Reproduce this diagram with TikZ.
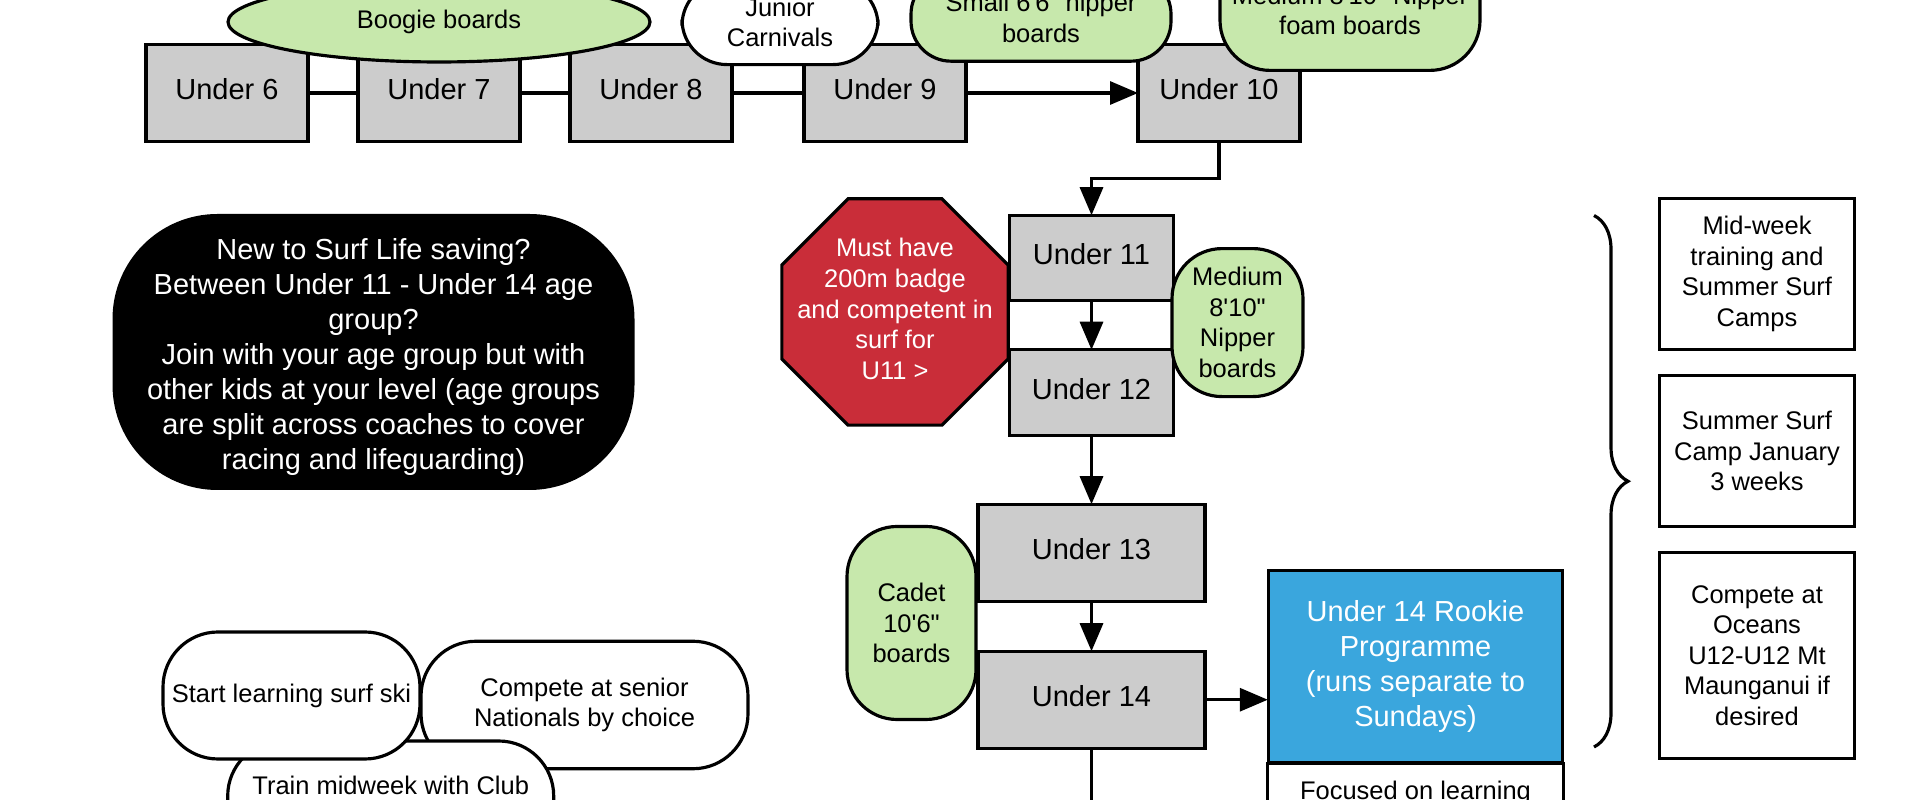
\documentclass[tikz,border=0pt]{standalone}
\usepackage{fontspec}
\setmainfont{Liberation Sans}
\usetikzlibrary{shapes.geometric,arrows.meta,positioning,decorations.pathreplacing,calc}
\definecolor{boxgray}{HTML}{CCCCCC}
\definecolor{boardgreen}{HTML}{C7E8AC}
\definecolor{stopred}{HTML}{C92D39}
\definecolor{rookieblue}{HTML}{3AA6DD}
\newcommand{\bigtxt}{\fontsize{8.25}{10}\selectfont}
\newcommand{\smalltxt}{\fontsize{7.25}{8.7}\selectfont}
\tikzset{
  agebox/.style={rectangle, draw=black, fill=boxgray, line width=0.9pt, font=\bigtxt,
    minimum width=1.62cm, minimum height=0.97cm, inner sep=0pt, outer sep=0pt, text depth=0.07cm},
  boardpill/.style={rectangle, rounded corners=0.4cm, draw=black, fill=boardgreen,
    line width=0.9pt, font=\smalltxt, align=center, inner sep=0pt},
  notepill/.style={boardpill, fill=white},
  infobox/.style={rectangle, draw=black, fill=white, line width=0.9pt, font=\smalltxt,
    align=center, minimum width=1.95cm, inner sep=0pt, outer sep=0pt},
  stopsign/.style={regular polygon, regular polygon sides=8, minimum size=2.45cm,
    draw=black, fill=stopred, line width=0.9pt, inner sep=0pt},
  flowarrow/.style={-{Triangle[length=2.8mm,width=2.3mm]}, line width=0.9pt},
  flowline/.style={line width=0.9pt}
}

\begin{document}
\begin{tikzpicture}
  \useasboundingbox (0,0) rectangle (19.2,8);
  \clip (0,0) rectangle (19.2,8);
  % top row of age groups
  \node[agebox] (u6) at (2.27,7.07) {Under 6};
  \node[agebox,right=0.50cm of u6] (u7) {Under 7};
  \node[agebox,right=0.50cm of u7] (u8) {Under 8};
  \node[agebox,right=0.72cm of u8] (u9) {Under 9};
  \node[agebox,right=1.72cm of u9] (u10) {Under 10};
  \draw[flowline](u6)--(u7);\draw[flowline](u7)--(u8);\draw[flowline](u8)--(u9);\draw[flowarrow](u9)--(u10);
  % boards and events over the top row
  \node[ellipse,draw=black,fill=boardgreen,line width=0.9pt,font=\smalltxt,
    minimum width=4.22cm,minimum height=0.80cm,inner sep=0pt] (boogie) at (4.39,7.78) {Boogie boards};
  \node[notepill,rounded corners=0.45cm,minimum width=1.96cm,minimum height=0.84cm] (carnival) at (7.80,7.774) {Junior\\Carnivals};
  \node[boardpill,minimum width=2.60cm,minimum height=0.87cm] (smallboard) at (10.41,7.823)
    {Small 6\textquotesingle6\textquotedbl{} nipper\\boards};
  \node[boardpill,rounded corners=0.5cm,minimum width=2.60cm,minimum height=1.20cm] (foamboard) at (13.50,7.896)
    {Medium 8\textquotesingle10\textquotedbl{} Nipper\\foam boards};
  % middle column
  \node[agebox,minimum width=1.64cm,minimum height=0.855cm] (u11) at (10.915,5.42) {Under 11};
  \node[agebox,minimum width=1.64cm,minimum height=0.855cm,below=0.49cm of u11] (u12) {Under 12};
  \node[agebox,minimum width=2.27cm,below=0.69cm of u12] (u13) {Under 13};
  \node[agebox,minimum width=2.27cm,below=0.50cm of u13] (u14) {Under 14};
  \draw[flowarrow] (u10.south) -- ++(0,-0.37) -| (u11.north);
  \draw[flowarrow](u11)--(u12);\draw[flowarrow](u12)--(u13);\draw[flowarrow](u13)--(u14);
  \node[stopsign] (badge) at (8.95,4.88) {};
  \node[font=\smalltxt,text=white,align=center] (badgetext) at ($(badge.center)+(0,0.03)$)
    {Must have\\200m badge\\and competent in\\surf for\\U11 >};
  \node[boardpill,rounded corners=0.5cm,minimum width=1.31cm,minimum height=1.48cm] (nipperboard) at (12.375,4.774)
    {Medium\\8\textquotesingle10\textquotedbl\\Nipper\\boards};
  \node[boardpill,rounded corners=0.5cm,minimum width=1.29cm,minimum height=1.93cm] (cadetboard) at (9.115,1.77)
    {Cadet\\10\textquotesingle6\textquotedbl\\boards};
  % rookie programme
  \node[rectangle,minimum width=2.94cm,minimum height=1.92cm,inner sep=0pt] (rookie) at (14.155,1.333) {};
  \draw[flowline,fill=white] (rookie.south west) rectangle ($(rookie.south east)+(0,-1)$);
  \node[anchor=north,font=\smalltxt,inner ysep=0.17cm,text height=0.18cm,text depth=0.05cm] (rookienote) at (rookie.south)
    {Focused on learning};
  \node[rectangle,draw=black,fill=rookieblue,line width=0.9pt,text=white,font=\bigtxt,align=center,
    minimum width=2.94cm,minimum height=1.92cm,inner sep=0pt] at (rookie.center)
    {Under 14 Rookie\\Programme\\(runs separate to\\Sundays)};
  \draw[flowarrow] (u14.east) -- (u14.east -| rookie.west);
  \coordinate (u14exit) at ($(u14.south)+(0,-1)$);
  \draw[flowline] (u14.south) -- (u14exit);
  % newcomer note
  \node[rectangle,rounded corners=1.05cm,fill=black,
    minimum width=5.22cm,minimum height=2.76cm,inner sep=0pt] (newcomer) at (3.735,4.48) {};
  \node[text=white,font=\bigtxt,align=center] (newcomertext) at ($(newcomer.center)+(0,-0.05)$)
    {New to Surf Life saving?\\Between Under 11 - Under 14 age\\group?\\Join with your age group but with\\other kids at your level (age groups\\are split across coaches to cover\\racing and lifeguarding)};
  % senior options
  \node[notepill,rounded corners=0.55cm,minimum width=3.27cm,minimum height=1.275cm] (nationals) at (5.845,0.95)
    {Compete at senior\\Nationals by choice};
  \node[notepill,rounded corners=0.55cm,minimum width=3.26cm,minimum height=1.27cm] (midweek) at (3.907,-0.045) {};
  \node[font=\smalltxt] (midweektext) at (3.907,0.15) {Train midweek with Club};
  \node[notepill,rounded corners=0.55cm,minimum width=2.57cm,minimum height=1.27cm] (surfski) at (2.915,1.045)
    {Start learning surf ski};
  % extras on the right
  \node[infobox,minimum height=1.51cm] (camps) at (17.57,5.26) {Mid-week\\training and\\Summer Surf\\Camps};
  \node[infobox,minimum height=1.51cm,below=0.26cm of camps] (january) {Summer Surf\\Camp January\\3 weeks};
  \node[infobox,minimum height=2.06cm,below=0.26cm of january] (oceans) {Compete at\\Oceans\\U12-U12 Mt\\Maunganui if\\desired};
  \coordinate (bracetop) at (15.94,5.845);
  \coordinate (bracebot) at (15.94,0.53);
  \draw[flowline,decorate,decoration={brace,amplitude=0.34cm}] (bracetop) -- (bracebot);
\end{tikzpicture}
\end{document}
